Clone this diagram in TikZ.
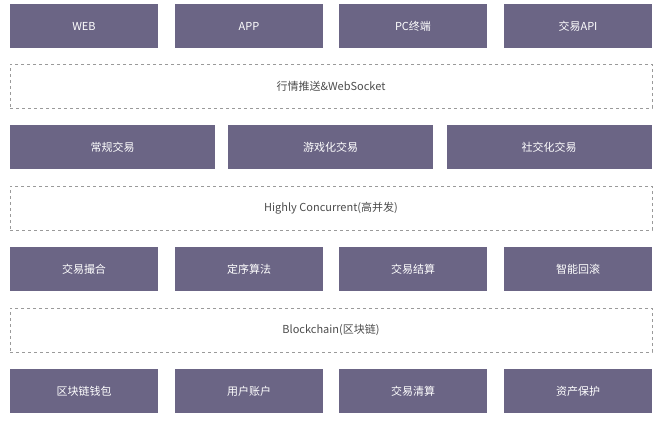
\documentclass[tikz,border=0pt]{standalone}
\usepackage{fontspec}
\setmainfont{Noto Sans CJK SC}
\definecolor{boxfill}{HTML}{6B6585}
\definecolor{dashgray}{HTML}{9A9A9A}
\begin{document}
\begin{tikzpicture}[x=1pt, y=-1pt,
	block/.style={fill=boxfill, text=white, minimum height=44pt, inner sep=0pt, font=\fontsize{11}{13}\selectfont},
	band/.style={draw=dashgray, dashed, text=black!70, minimum width=642pt, minimum height=44pt, inner sep=0pt, font=\fontsize{11}{13}\selectfont}]
	\useasboundingbox (0,0) rectangle (657,424);

	% top row
	\foreach \x/\t/\n in {84/WEB/web, 249/APP/app, 413/PC终端/pc, 578/交易API/api}
		\node[block, minimum width=148pt] (\n) at (\x,26) {\t};
	\node[band] (ws) at (331,86) {行情推送\&WebSocket};

	% trading
	\foreach \x/\t/\n in {112.5/常规交易/normal, 330.5/游戏化交易/game, 549/社交化交易/social}
		\node[block, minimum width=205pt] (\n) at (\x,147) {\t};
	\node[band] (hc) at (331,208) {Highly Concurrent(高并发)};

	% engine
	\foreach \x/\t/\n in {84/交易撮合/match, 249/定序算法/seq, 413/交易结算/settle, 578/智能回滚/rollback}
		\node[block, minimum width=148pt] (\n) at (\x,269) {\t};
	\node[band] (bc) at (331,330) {Blockchain(区块链)};

	% bottom row
	\foreach \x/\t/\n in {84/区块链钱包/wallet, 249/用户账户/account, 413/交易清算/clear, 578/资产保护/protect}
		\node[block, minimum width=148pt] (\n) at (\x,391) {\t};
\end{tikzpicture}
\end{document}
